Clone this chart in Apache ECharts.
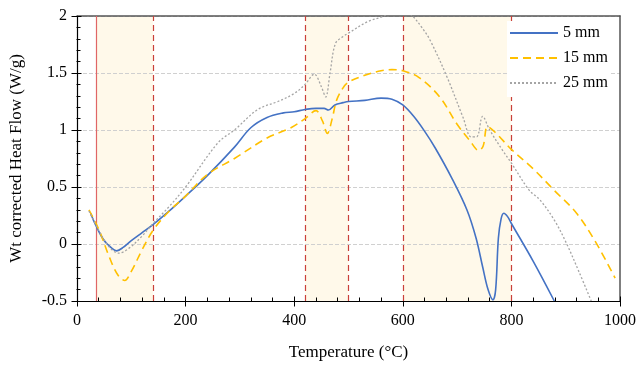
<!DOCTYPE html>
<html><head><meta charset="utf-8">
<script src="https://cdn.jsdelivr.net/npm/echarts@6/dist/echarts.min.js"></script>
<style>html,body{margin:0;padding:0;background:#fff}#c{width:639px;height:371px}</style>
</head><body><div id="c"></div>
<script>
const seriesNames = ['5 mm', '15 mm', '25 mm'];
const t5 = [25,35,50,65,73,85,100,120,140,170,200,240,290,320,350,380,400,420,440,455,463,475,490,500,530,560,580,600,620,640,660,690,718,735,747,757,766,771,776,781,786,793,800,840,879];
const v5 = [0.27,0.16,0.03,-0.04,-0.06,-0.03,0.03,0.10,0.17,0.29,0.42,0.60,0.85,1.02,1.11,1.15,1.16,1.18,1.19,1.19,1.175,1.22,1.24,1.25,1.26,1.28,1.27,1.22,1.12,0.99,0.84,0.58,0.30,0.05,-0.2,-0.4,-0.49,-0.40,0.05,0.22,0.27,0.24,0.18,-0.15,-0.5];
const t15 = [22,40,60,75,88,100,120,140,170,200,240,290,350,394,420,440,452,461,470,478,490,500,530,560,580,600,630,668,700,723,740,748,756,770,800,840,879,920,956,991];
const v15 = [0.30,0.13,-0.12,-0.27,-0.32,-0.24,-0.05,0.12,0.29,0.42,0.61,0.75,0.93,1.02,1.10,1.17,1.08,0.97,1.10,1.26,1.37,1.42,1.48,1.52,1.53,1.52,1.46,1.29,1.05,0.91,0.82,0.86,1.03,0.98,0.83,0.66,0.47,0.27,0.01,-0.30];
const t25 = [22,40,60,77,95,120,140,170,200,260,290,333,370,400,420,437,450,458,466,476,490,500,535,560,575,595,612,620,635,650,681,711,726,736,747,760,784,800,833,852,879,901,925,947];
const v25 = [0.29,0.12,-0.03,-0.08,-0.04,0.07,0.18,0.33,0.50,0.89,1.00,1.18,1.25,1.32,1.40,1.49,1.38,1.29,1.50,1.76,1.82,1.85,1.95,1.99,2.02,2.05,2.02,1.99,1.90,1.79,1.47,1.11,0.94,0.94,1.12,1.0,0.82,0.71,0.47,0.39,0.21,0.01,-0.25,-0.5];
const bands = [[35,140],[420,500],[600,800]];
const solidLines = [35];
const dashedLines = [140,420,500,600,800];
const xTicks = {min:0, max:1000, interval:200, minorInterval:40};
const yTicks = {min:-0.5, max:2, interval:0.5, minorInterval:0.1};

const pair = (t,v) => t.map((x,i)=>[x,v[i]]);
const FONT = 'Liberation Serif';
const chart = echarts.init(document.getElementById('c'), null, {renderer:'canvas'});
const fmt = v => String(v);
const noLabel = {show:false};
const tickStyle = {color:'#000', width:1};
function tickAxis(t, interval, pos, inside, len, offset) {
  return {type:'value', min:t.min, max:t.max, interval:interval, position:pos, offset:offset, z:3,
    axisLine:{show:false, onZero:false},
    axisTick:{show:true, inside:inside, length:len, lineStyle:tickStyle},
    axisLabel:noLabel, splitLine:{show:false}};
}
const frameX = {type:'value', min:xTicks.min, max:xTicks.max, interval:xTicks.interval, position:'top', z:3,
  axisLine:{show:true, onZero:false, lineStyle:{color:'#555', width:1.5}}, axisTick:{show:false}, axisLabel:noLabel, splitLine:{show:false}};
const frameY = {type:'value', min:yTicks.min, max:yTicks.max, interval:yTicks.interval, position:'right', z:3,
  axisLine:{show:true, onZero:false, lineStyle:{color:'#555', width:1.5}}, axisTick:{show:false}, axisLabel:noLabel, splitLine:{show:false}};
chart.setOption({
  animation:false,
  grid: {left:75, right:18, top:16, bottom:70},
  legend: {
    orient:'vertical', left:507, top:21, itemWidth:48, itemHeight:12, itemGap:9,
    backgroundColor:'#fff', padding:[4,2,6,2], z:6,
    itemStyle:{opacity:0},
    textStyle:{fontFamily:FONT, fontSize:16, color:'#000'},
    data: seriesNames
  },
  xAxis: [{
    type:'value', min:xTicks.min, max:xTicks.max, interval:xTicks.interval, z:3,
    name:'Temperature (°C)', nameLocation:'middle', nameGap:43,
    nameTextStyle:{fontFamily:FONT, fontSize:17, color:'#000'},
    axisLine:{show:true, onZero:false, lineStyle:{color:'#000', width:1.2}},
    axisTick:{show:true, inside:false, length:5, lineStyle:tickStyle},
    axisLabel:{fontFamily:FONT, fontSize:16, color:'#000', margin:12, formatter:fmt},
    splitLine:{show:false}
  }, frameX,
    tickAxis(xTicks, xTicks.minorInterval, 'bottom', true, 4, 0.5),
    tickAxis(xTicks, xTicks.interval, 'bottom', true, 5, 0.5),
    tickAxis(xTicks, xTicks.interval, 'bottom', false, 5, 0.5)],
  yAxis: [{
    type:'value', min:yTicks.min, max:yTicks.max, interval:yTicks.interval, z:3,
    name:'Wt corrected Heat Flow (W/g)', nameLocation:'middle', nameGap:52,
    nameTextStyle:{fontFamily:FONT, fontSize:17, color:'#000'},
    axisLine:{show:true, onZero:false, lineStyle:{color:'#000', width:1.2}},
    axisTick:{show:true, inside:false, length:5, lineStyle:tickStyle},
    axisLabel:{fontFamily:FONT, fontSize:16, color:'#000', margin:10, formatter:fmt},
    splitLine:{show:true, lineStyle:{color:'#d0d0d0', type:'dashed', width:1}}
  }, frameY,
    tickAxis(yTicks, yTicks.minorInterval, 'left', true, 4, 0.5),
    tickAxis(yTicks, yTicks.interval, 'left', true, 5, 0.5),
    tickAxis(yTicks, yTicks.interval, 'left', false, 5, 0.5)],
  series: [
    {name:seriesNames[0], type:'line', data:pair(t5,v5), smooth:0.35, symbol:'none', z:5,
      lineStyle:{color:'#4472c4', width:1.6}, itemStyle:{color:'#4472c4'},
      markArea:{silent:true, itemStyle:{color:'rgba(255,230,170,0.25)'},
        data: bands.map(b=>[{xAxis:b[0]},{xAxis:b[1]}])},
      markLine:{silent:true, symbol:'none', label:{show:false},
        data: solidLines.map(x=>({xAxis:x, lineStyle:{color:'#e06666', width:1.2, type:'solid'}}))
          .concat(dashedLines.map(x=>({xAxis:x, lineStyle:{color:'#c9403a', width:1.2, type:[6,4]}})))}
    },
    {name:seriesNames[1], type:'line', data:pair(t15,v15), smooth:0.35, symbol:'none', z:5,
      lineStyle:{color:'#ffc000', width:1.6, type:[8,5]}, itemStyle:{color:'#ffc000'}},
    {name:seriesNames[2], type:'line', data:pair(t25,v25), smooth:0.35, symbol:'none', z:5,
      lineStyle:{color:'#a5a5a5', width:1.3, type:[2,2]}, itemStyle:{color:'#a5a5a5'}}
  ]
});
</script></body></html>
